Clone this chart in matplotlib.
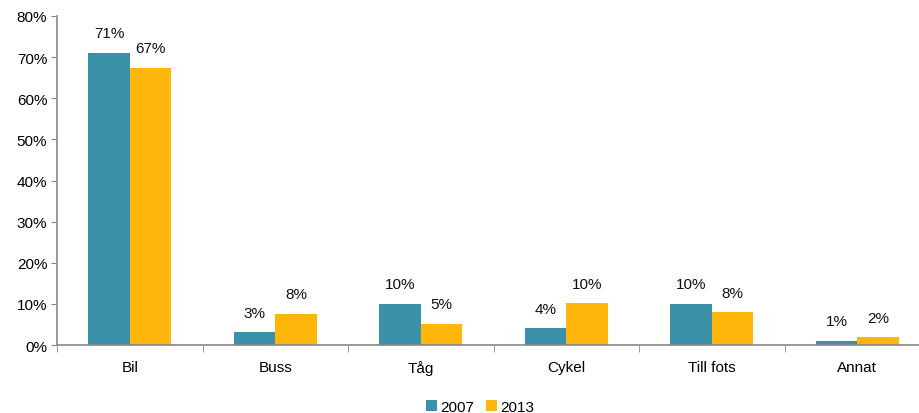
import matplotlib.pyplot as plt
import numpy as np

plt.rcParams['font.family'] = ['Liberation Sans', 'DejaVu Sans']

categories = ['Bil', 'Buss', 'Tåg', 'Cykel', 'Till fots', 'Annat']
v2007 = [71.1, 3.1, 10.0, 4.1, 10.0, 1.05]
v2013 = [67.4, 7.6, 5.2, 10.2, 8.0, 1.9]
lab2007 = ['71%', '3%', '10%', '4%', '10%', '1%']
lab2013 = ['67%', '8%', '5%', '10%', '8%', '2%']

c2007 = '#3A91A8'
c2013 = '#FFB60B'

fig = plt.figure(figsize=(9.2, 4.14), dpi=100)
ax = fig.add_axes([0.062, 0.164, 0.949, 0.795])

x = np.arange(len(categories))
w = 0.285
b1 = ax.bar(x - w/2, v2007, w, color=c2007, label='2007')
b2 = ax.bar(x + w/2, v2013, w, color=c2013, label='2013')

for bars, labs in ((b1, lab2007), (b2, lab2013)):
    for b, t in zip(bars, labs):
        ax.annotate(t, (b.get_x() + b.get_width()/2, b.get_height()),
                    xytext=(0, 9), textcoords='offset points',
                    ha='center', va='bottom', fontsize=11, color='#111111')

ax.set_xlim(-0.5, len(categories) - 0.5)
ax.set_ylim(0, 80)
ax.set_yticks(range(0, 81, 10))
ax.set_yticklabels([f'{v}%' for v in range(0, 81, 10)], fontsize=11)
ax.set_xticks(x)
ax.set_xticklabels(categories, fontsize=11)
ax.set_xticks(np.arange(-0.5, len(categories), 1), minor=True)
ax.tick_params(axis='x', which='major', length=0, pad=11)
ax.tick_params(axis='x', which='minor', length=5, color='#888888', direction='out')
ax.tick_params(axis='y', length=4, color='#888888', pad=3)

for s in ('top', 'right'):
    ax.spines[s].set_visible(False)
for s in ('left', 'bottom'):
    ax.spines[s].set_color('#888888')
    ax.spines[s].set_linewidth(1.2)

fig.legend(handles=[b1, b2], labels=['2007', '2013'], loc='lower center',
           bbox_to_anchor=(0.522, -0.035), ncol=2, frameon=False, fontsize=11,
           handlelength=0.7, handleheight=0.7, handletextpad=0.2, columnspacing=0.8)

fig.savefig('out.png', dpi=100)
